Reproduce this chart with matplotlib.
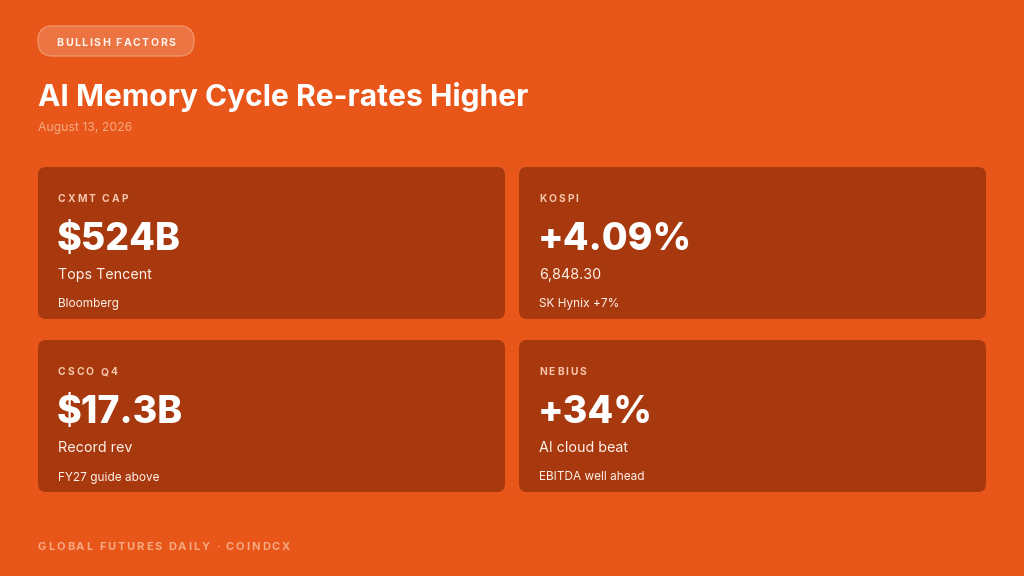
import matplotlib
matplotlib.use("Agg")
import matplotlib.pyplot as plt
from matplotlib.patches import FancyBboxPatch

# ---- content ----
badge = "BULLISH FACTORS"
title = "AI Memory Cycle Re-rates Higher"
date = "August 13, 2026"
footer = "GLOBAL FUTURES DAILY · COINDCX"
labels = ["CXMT CAP", "KOSPI", "CSCO Q4", "NEBIUS"]
values = ["$524B", "+4.09%", "$17.3B", "+34%"]
subtitles = ["Tops Tencent", "6,848.30", "Record rev", "AI cloud beat"]
notes = ["Bloomberg", "SK Hynix +7%", "FY27 guide above", "EBITDA well ahead"]

BG = "#E8561A"
CARD = "#A8390E"
PALE = "#F6AA82"
FONT = "Inter"

W, H = 1024, 576
fig = plt.figure(figsize=(W / 100, H / 100), dpi=100)
fig.patch.set_facecolor(BG)
ax = fig.add_axes([0, 0, 1, 1])
ax.set_xlim(0, W)
ax.set_ylim(H, 0)
ax.axis("off")
renderer = fig.canvas.get_renderer()


def text_width(s, **kw):
    t = ax.text(0, 0, s, **kw)
    w = t.get_window_extent(renderer).width
    t.remove()
    return w


def spaced_width(s, spacing, **kw):
    space_w = text_width("x x", **kw) - text_width("xx", **kw)
    return sum(text_width(c, **kw) for c in s if c != " ") + \
        space_w * s.count(" ") + spacing * (len(s) - 1)


def spaced(x, y, s, spacing, **kw):
    space_w = text_width("x x", **kw) - text_width("xx", **kw)
    cx = x
    for ch in s:
        if ch == " ":
            cx += space_w + spacing
            continue
        t = ax.text(cx, y, ch, ha="left", va="baseline", **kw)
        cx += t.get_window_extent(renderer).width + spacing
    return cx


def rbox(x0, y0, x1, y1, r, fc, ec="none", lw=0):
    p = FancyBboxPatch((x0 + r, y0 + r), (x1 - x0) - 2 * r, (y1 - y0) - 2 * r,
                       boxstyle=f"round,pad={r}", fc=fc, ec=ec, lw=lw)
    ax.add_patch(p)


# badge pill
rbox(38, 26, 194, 56, 15, "#EC7443", ec="#F19368", lw=1)
kw_b = dict(fontsize=7.6, fontweight="bold", color="#FFF3EC", family=FONT)
bw = spaced_width(badge, 1.5, **kw_b)
spaced(116 - bw / 2, 46, badge, 1.5, **kw_b)

# title & date
ax.text(38, 106, title, ha="left", va="baseline", fontsize=21.6, fontweight="bold",
        color="white", family=FONT)
ax.text(38, 131.5, date, ha="left", va="baseline", fontsize=8.8, color=PALE, family=FONT)

# cards
xs = [(38, 505), (519, 986)]
ys = [(167, 319), (340, 492)]
for i in range(4):
    (x0, x1) = xs[i % 2]
    (y0, y1) = ys[i // 2]
    rbox(x0, y0, x1, y1, 8, CARD)
    tx = x0 + 20
    spaced(tx, y0 + 35, labels[i], 2.0, fontsize=7.4, fontweight="bold",
           color="#F8C6AC", family=FONT)
    ax.text(tx - 1, y0 + 83, values[i], ha="left", va="baseline", fontsize=27,
            fontweight="heavy", color="white", family=FONT)
    ax.text(tx, y0 + 112, subtitles[i], ha="left", va="baseline", fontsize=10.3,
            color="#FFF1EA", family=FONT)
    ax.text(tx, y0 + 140.5, notes[i], ha="left", va="baseline", fontsize=8.5,
            color="#FFF1EA", family=FONT)

# footer
spaced(38, 550, footer, 1.9, fontsize=8.0, fontweight="bold", color=PALE, family=FONT)

fig.savefig("out.png", dpi=100, facecolor=BG)
